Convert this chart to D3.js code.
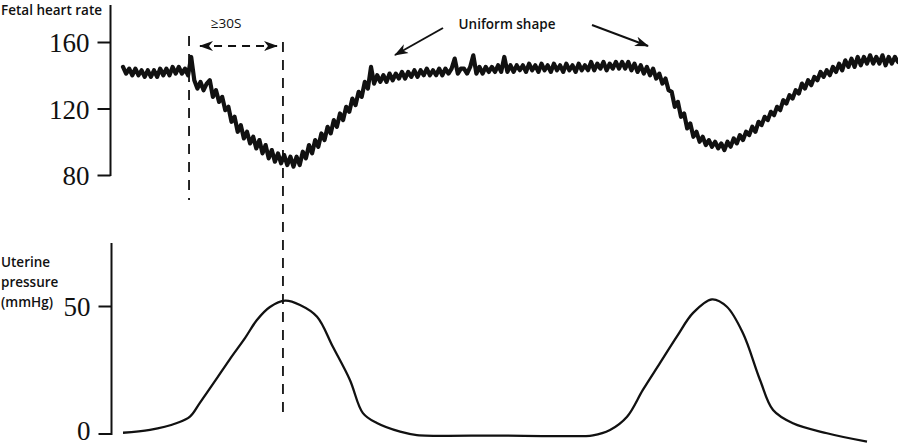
<!DOCTYPE html>
<html><head><meta charset="utf-8">
<script src="https://cdn.jsdelivr.net/npm/d3@7"></script>
<style>
html,body{margin:0;padding:0;background:#fff;}
svg{display:block;}
.lbl{font-family:"Open Sans","Noto Sans",sans-serif;font-size:13.5px;font-weight:600;fill:#111;}
.tick text{font-family:"Liberation Serif","DejaVu Serif",serif;font-size:27px;fill:#111;}
</style></head>
<body>
<svg id="c" width="898" height="446"></svg>
<script>
// ---- data ----
// Fetal heart rate (bpm), one sample per second from t = 0 s
const fhrBpm = [
145,141,144,140,144,140,143,139,143,139,
143,139,144,140,144,140,145,141,145,141,
144,140,151,137,132,136,131,135,137,127,
131,124,127,119,121,112,115,106,110,102,
106,99,103,96,101,93,98,90,95,88,
93,87,92,86,91,85,91,86,94,90,
98,93,101,97,105,101,109,105,113,109,
117,113,121,118,126,122,130,127,136,132,
145,135,140,136,140,136,141,137,141,138,
142,138,142,139,143,139,143,140,144,140,
143,140,144,140,144,141,144,150,141,144,
144,141,145,152,141,145,141,145,142,145,
142,146,142,151,142,146,142,146,143,146,
142,147,143,146,142,147,143,146,142,147,
143,146,142,147,143,146,142,147,143,146,
143,148,143,147,144,148,143,147,144,148,
144,148,144,148,143,147,142,146,141,145,
140,144,138,141,135,138,131,130,121,124,
115,117,108,111,103,106,100,103,98,101,
97,100,96,99,95,100,97,102,99,104,
101,106,104,109,106,112,110,115,113,118,
116,121,119,125,123,128,126,131,129,135,
132,137,134,139,137,142,139,143,140,145,
142,147,143,149,145,150,145,151,146,151,
147,152,147,151,147,152,146,151,147,151,148
];
// Uterine pressure (mmHg) at given times (s)
const utTime = [0,8.7,17.4,21.6,24.8,29.7,34.5,39.4,43.2,47.4,52.3,57.1,62.6,67.7,73.2,77.4,81.9,89.4,94.8,121.6,
  141,151.6,157.1,162.6,167.7,173.2,178.7,183.9,190,194.8,200,205.5,209.7,216.1,227.1,240];
const utValue = [0.3,1.4,4.1,6.6,12,20.6,29.2,37.5,44.5,49.6,52.1,50.4,45.8,34,21,8,4.1,0.7,-0.6,-0.8,
  -1,-0.7,1.4,6.6,17.1,27.6,38.1,47.3,52.6,49.7,39.3,21,9.2,4,0.1,-3.2];
const fhrTicks = [80,120,160];
const utTicks = [0,50];
const decelStart = 21.3, decelNadir = 51.6; // seconds
const titles = {fhr:"Fetal heart rate", ut:["Uterine","pressure","(mmHg)"], dur:"≥30S", shape:"Uniform shape"};

// ---- drawing ----
const svg = d3.select("#c");
const x = d3.scaleLinear().domain([0,250]).range([123,898]);
const yF = d3.scaleLinear().domain([80,160]).range([175,42]);
const yU = d3.scaleLinear().domain([0,50]).range([433.5,306]);

const defs = svg.append("defs");
defs.append("marker").attr("id","barb").attr("viewBox","0 -6 14 12")
  .attr("refX",13).attr("refY",0).attr("markerWidth",14).attr("markerHeight",12)
  .attr("markerUnits","userSpaceOnUse").attr("orient","auto-start-reverse")
  .append("path").attr("d","M0,-5 L14,0 L0,5 L4,0 Z").attr("fill","#111");

// axes
function axis(scale, ticks, xpos, top, bottom){
  const g = svg.append("g").attr("transform",`translate(${xpos},0)`)
    .call(d3.axisLeft(scale).tickValues(ticks).tickSize(13).tickPadding(8).tickFormat(d3.format("d")));
  g.select(".domain").remove();
  g.selectAll(".tick line").attr("stroke","#111").attr("stroke-width",2);
  g.selectAll(".tick text").attr("dy","0.36em");
  g.append("line").attr("x1",0).attr("x2",0).attr("y1",top).attr("y2",bottom)
    .attr("stroke","#111").attr("stroke-width",2);
  return g;
}
axis(yF, fhrTicks, 110.5, 5, 176);
const gU = axis(yU, utTicks, 111.5, 243, 435);
gU.selectAll(".tick text").filter(d=>d===0).attr("dy","0.22em");

// dashed reference lines
svg.append("line").attr("x1",x(decelStart)).attr("x2",x(decelStart)).attr("y1",36).attr("y2",200)
  .attr("stroke","#111").attr("stroke-width",1.8).attr("stroke-dasharray","10,8");
svg.append("line").attr("x1",x(decelNadir)).attr("x2",x(decelNadir)).attr("y1",42).attr("y2",415)
  .attr("stroke","#111").attr("stroke-width",1.8).attr("stroke-dasharray","10,8");

// duration arrow
svg.append("line").attr("x1",x(decelStart)+11).attr("x2",x(decelNadir)-6).attr("y1",46).attr("y2",46)
  .attr("stroke","#111").attr("stroke-width",1.8).attr("stroke-dasharray","8,6")
  .attr("marker-start","url(#barb)").attr("marker-end","url(#barb)");
svg.append("text").attr("class","lbl").attr("x",226).attr("y",23).attr("dy","0.35em")
  .attr("text-anchor","middle").style("font-weight",500).text(titles.dur);

// uniform shape
svg.append("text").attr("class","lbl").attr("x",507).attr("y",24).attr("dy","0.35em")
  .attr("text-anchor","middle").text(titles.shape);
svg.append("line").attr("x1",443).attr("y1",28).attr("x2",395).attr("y2",55)
  .attr("stroke","#111").attr("stroke-width",2).attr("marker-end","url(#barb)");
svg.append("line").attr("x1",592).attr("y1",25).attr("x2",648).attr("y2",46)
  .attr("stroke","#111").attr("stroke-width",2).attr("marker-end","url(#barb)");

// labels
svg.append("text").attr("class","lbl").attr("x",1).attr("y",10).attr("dy","0.35em").text(titles.fhr);
titles.ut.forEach((s,i)=>svg.append("text").attr("class","lbl").attr("x",1).attr("y",262+i*20).attr("dy","0.35em").text(s));

// FHR trace
svg.append("path").datum(fhrBpm)
  .attr("d", d3.line().x((d,i)=>x(i)).y(d=>yF(d)))
  .attr("fill","none").attr("stroke","#111").attr("stroke-width",4.2)
  .attr("stroke-linejoin","round").attr("stroke-linecap","round");

// uterine pressure
svg.append("path").datum(utTime.map((t,i)=>[t,utValue[i]]))
  .attr("d", d3.line().x(d=>x(d[0])).y(d=>yU(d[1])).curve(d3.curveCatmullRom.alpha(0.5)))
  .attr("fill","none").attr("stroke","#111").attr("stroke-width",2.3);
</script>
</body></html>
